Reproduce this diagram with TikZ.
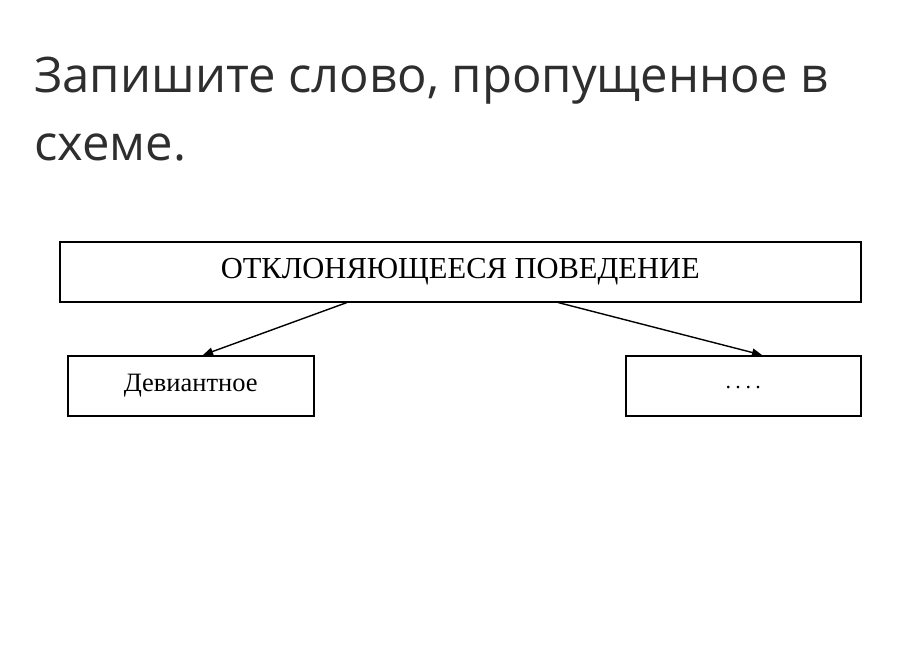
\documentclass[tikz,border=0pt]{standalone}
\usepackage{fontspec}
\usetikzlibrary{arrows.meta}
\setmainfont{Liberation Serif}
\newfontfamily\titlefont{Open Sans}
\definecolor{titlegray}{HTML}{2E2E2E}

\tikzset{
  blockbox/.style={draw,line width=1.5pt,inner sep=0pt,anchor=north west},
  linkarrow/.style={line width=1.4pt,-{Triangle[length=10pt,width=8pt]}}
}

\begin{document}
\begin{tikzpicture}[x=1pt,y=-1pt]
\path[use as bounding box,fill=white] (0,0) rectangle (914.0,667.0);
\node[anchor=base west,inner sep=0pt,text=titlegray,font=\titlefont\fontsize{49.0}{58.8}\selectfont] (title1) at (34,92) {Запишите слово, пропущенное в};
\node[anchor=base west,inner sep=0pt,text=titlegray,font=\titlefont\fontsize{49.0}{58.8}\selectfont] (title2) at (34,160) {схеме.};
\node[blockbox,minimum width=801pt,minimum height=60pt,font=\fontsize{30.5}{36.6}\selectfont] (top) at (59,241) {ОТКЛОНЯЮЩЕЕСЯ ПОВЕДЕНИЕ};
\node[blockbox,minimum width=246pt,minimum height=60pt,font=\fontsize{26.5}{31.8}\selectfont] (dev) at (67,355) {Девиантное};
\node[blockbox,minimum width=235pt,minimum height=60pt,font=\fontsize{22.0}{26.4}\selectfont] (gap) at (625,355) {\raisebox{-5pt}{.\hspace{4.5pt}.\hspace{4.5pt}.\hspace{4.5pt}.}};
\draw[linkarrow] ([xshift=288pt]top.south west) -- ([xshift=136pt]dev.north west);
\draw[linkarrow] ([xshift=499pt]top.south west) -- ([xshift=137pt]gap.north west);
\end{tikzpicture}
\end{document}
